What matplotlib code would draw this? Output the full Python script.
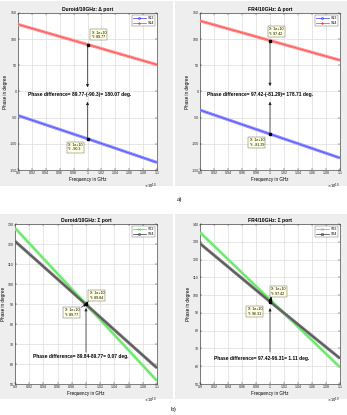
import matplotlib.pyplot as plt
from matplotlib.patches import Rectangle
from matplotlib.lines import Line2D

# frequency points (Hz)
freq = [0.9e10, 1.0e10, 1.1e10]

# a) delta port
duroid_s13 = [-45.8, -90.3, -135.6]
duroid_s14 = [128.3, 89.77, 51.2]
fr4_s13 = [-35.5, -81.29, -127.0]
fr4_s14 = [135.0, 97.42, 59.8]

# b) sigma port
duroid_s23 = [128.0, 89.84, 51.6]
duroid_s24 = [121.4, 89.77, 58.0]
fr4_s23 = [135.3, 97.42, 59.4]
fr4_s24 = [129.0, 96.31, 64.4]

xticks = [0.9e10, 0.92e10, 0.94e10, 0.96e10, 0.98e10, 1.0e10,
          1.02e10, 1.04e10, 1.06e10, 1.08e10, 1.1e10]
xticklabels = ['0.9', '0.92', '0.94', '0.96', '0.98', '1',
               '1.02', '1.04', '1.06', '1.08', '1.1']

W, H = 347, 415
fig = plt.figure(figsize=(W / 100, H / 100), dpi=100)
fig.patch.set_facecolor('white')

# grey MATLAB figure backgrounds
for (x0, y0, x1, y1) in [(0, 1, 173, 186), (175, 1, 347, 186),
                         (0, 214, 173, 399), (175, 214, 347, 399)]:
    fig.patches.append(Rectangle((x0 / W, 1 - y1 / H), (x1 - x0) / W, (y1 - y0) / H,
                                 transform=fig.transFigure, fc='#eeeeee', ec='none',
                                 zorder=-5))

FONT = 'Liberation Sans'


def make_axes(px, title, ylim, yticks):
    x0, y0, x1, y1 = px
    ax = fig.add_axes([x0 / W, 1 - y1 / H, (x1 - x0) / W, (y1 - y0) / H])
    ax.set_xlim(0.9e10, 1.1e10)
    ax.set_ylim(*ylim)
    ax.set_xticks(xticks)
    ax.set_xticklabels(xticklabels, fontsize=2.6, family=FONT)
    ax.set_yticks(yticks)
    ax.set_yticklabels([str(t) for t in yticks], fontsize=2.6, family=FONT)
    ax.tick_params(direction='in', length=1.5, width=0.3, pad=1, top=True, right=True,
                   colors='#262626')
    ax.grid(True, color='#dcdcdc', lw=0.5)
    ax.set_axisbelow(True)
    for s in ax.spines.values():
        s.set_linewidth(0.4)
        s.set_color('#262626')
    ax.set_title(title, fontsize=3.6, fontweight='bold', family=FONT, pad=1.5)
    ax.set_xlabel('Frequency in GHz', fontsize=3.3, family=FONT, labelpad=1)
    ax.set_ylabel('Phase in degree', fontsize=3.3, family=FONT, labelpad=1)
    ax.text(1.0, -0.075, r'$\times10^{10}$', transform=ax.transAxes, ha='right', va='top',
            fontsize=2.6)
    return ax


def band(ax, y, light, dark):
    ax.plot(freq, y, color=light, lw=2.2, solid_capstyle='butt', zorder=3)
    ax.plot(freq, y, color=dark, lw=0.4, alpha=0.7, zorder=4)


def legend(ax, entries):
    handles = [Line2D([], [], color=c, marker=m, ms=1.5, lw=0.5, mew=0.4, mfc='none')
               for (c, m, _) in entries]
    lg = ax.legend(handles, [e[2] for e in entries], loc='upper right',
                   frameon=True, fancybox=False, borderpad=0.3, handlelength=3.5,
                   handletextpad=0.5, borderaxespad=0.6, labelspacing=0.2,
                   prop={'family': FONT, 'size': 2.6})
    lg.get_frame().set_linewidth(0.3)
    lg.get_frame().set_edgecolor('#333333')


def tip(ax, x, y, txt, va):
    ax.text(x, y, txt, fontsize=2.6, family=FONT, ha='left', va=va, zorder=8,
            bbox=dict(boxstyle='square,pad=0.35', fc='#ffffe1', ec='#555555', lw=0.3))


def arrow(ax, y_from, y_to):
    ax.annotate('', xy=(1.0e10, y_to), xytext=(1.0e10, y_from), zorder=7,
                arrowprops=dict(arrowstyle='-|>', lw=0.5, color='#222222',
                                mutation_scale=4, shrinkA=0, shrinkB=0))


def point(ax, y):
    ax.plot([1.0e10], [y], 's', color='k', ms=1.8, zorder=9)


def diff_text(ax, x, y, txt):
    ax.text(x, y, txt, fontsize=3.5, fontweight='bold', family=FONT, ha='left',
            va='center', zorder=8)


yt_delta = [-150, -100, -50, 0, 50, 100, 150]

# ---- a) Duroid delta port
ax = make_axes((18, 13, 157, 170), 'Duroid/10GHz: \u0394 port', (-150, 150), yt_delta)
band(ax, duroid_s13, '#8c8cff', '#2020ff')
band(ax, duroid_s14, '#ff8c8c', '#ff2020')
legend(ax, [('#3333ff', 'o', 'S13'), ('#ff3333', '*', 'S14')])
point(ax, duroid_s14[1])
point(ax, duroid_s13[1])
tip(ax, 1.006e10, 100, 'X: 1e+10\nY: 89.77', 'bottom')
tip(ax, 0.972e10, -98, 'X: 1e+10\nY: -90.3', 'top')
arrow(ax, duroid_s14[1], 8)
arrow(ax, duroid_s13[1], -19.6)
diff_text(ax, 0.9145e10, -6, 'Phase difference= 89.77-(-90.3)= 180.07 deg.')

# ---- a) FR4 delta port
ax = make_axes((200, 13, 340, 170), 'FR4/10GHz: \u0394 port', (-150, 150), yt_delta)
band(ax, fr4_s13, '#8c8cff', '#2020ff')
band(ax, fr4_s14, '#ff8c8c', '#ff2020')
legend(ax, [('#3333ff', 'o', 'S13'), ('#ff3333', '*', 'S14')])
point(ax, fr4_s14[1])
point(ax, fr4_s13[1])
tip(ax, 0.999e10, 106, 'X: 1e+10\nY: 97.42', 'bottom')
tip(ax, 0.971e10, -89, 'X: 1e+10\nY: -81.29', 'top')
arrow(ax, fr4_s14[1], 10.4)
arrow(ax, fr4_s13[1], -19.6)
diff_text(ax, 0.91e10, -6, 'Phase difference= 97.42-(-81.29)= 178.71 deg.')

# ---- b) Duroid sigma port
ax = make_axes((15, 224, 157, 384), 'Duroid/10GHz: \u03a3 port', (50, 130),
               [50, 60, 70, 80, 90, 100, 110, 120, 130])
band(ax, duroid_s23, '#8ef08e', '#22cc22')
band(ax, duroid_s24, '#777777', '#222222')
legend(ax, [('#33dd33', 'x', 'S23'), ('#333333', 'o', 'S24')])
point(ax, duroid_s23[1])
tip(ax, 1.005e10, 92.2, 'X: 1e+10\nY: 89.84', 'bottom')
tip(ax, 0.970e10, 87.8, 'X: 1e+10\nY: 89.77', 'top')
ax.annotate('', xy=(1.0e10, duroid_s23[1]), xytext=(1.004e10, 91.8), zorder=7,
            arrowprops=dict(arrowstyle='-|>', lw=0.4, color='k', mutation_scale=3,
                            shrinkA=0, shrinkB=0))
ax.annotate('', xy=(1.0e10, duroid_s24[1]), xytext=(0.9935e10, 88.4), zorder=7,
            arrowprops=dict(arrowstyle='-|>', lw=0.4, color='k', mutation_scale=3,
                            shrinkA=0, shrinkB=0))
arrow(ax, 66, 88)
diff_text(ax, 0.925e10, 63.6, 'Phase difference= 89.84-89.77= 0.07 deg.')

# ---- b) FR4 sigma port
ax = make_axes((200, 224, 340, 384), 'FR4/10GHz: \u03a3 port', (50, 140),
               [50, 60, 70, 80, 90, 100, 110, 120, 130, 140])
band(ax, fr4_s23, '#8ef08e', '#22cc22')
band(ax, fr4_s24, '#777777', '#222222')
legend(ax, [('#33dd33', 'x', 'S23'), ('#333333', 's', 'S24')])
point(ax, fr4_s23[1])
point(ax, fr4_s24[1])
tip(ax, 1.0015e10, 99.6, 'X: 1e+10\nY: 97.42', 'bottom')
tip(ax, 0.968e10, 93.2, 'X: 1e+10\nY: 96.31', 'top')
ax.annotate('', xy=(1.0e10, fr4_s23[1]), xytext=(1.003e10, 99.3), zorder=7,
            arrowprops=dict(arrowstyle='-|>', lw=0.4, color='k', mutation_scale=3,
                            shrinkA=0, shrinkB=0))
arrow(ax, 68, 92.7)
diff_text(ax, 0.92e10, 64.6, 'Phase difference= 97.42-96.31= 1.11 deg.')

fig.text(179 / W, 1 - 199 / H, 'a)', fontsize=5, family='Liberation Serif',
         ha='center', va='center')
fig.text(174 / W, 1 - 409 / H, 'b)', fontsize=5, family='Liberation Serif',
         ha='center', va='center')

fig.savefig('out.png', dpi=100)
